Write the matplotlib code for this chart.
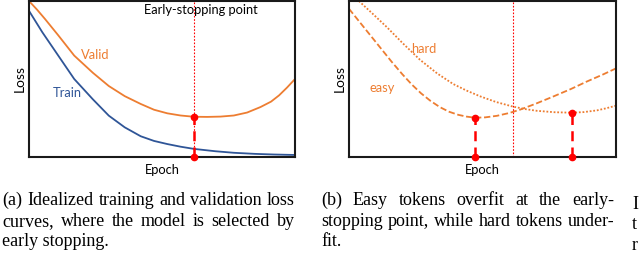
import matplotlib
matplotlib.use("Agg")
import matplotlib.pyplot as plt

# ---------------- data (arbitrary units 0-100) -------------
valid_x = [0, 3, 6, 11, 17, 24, 30, 36, 42, 47, 52, 57, 62, 67, 72, 77, 82, 87, 91, 94, 97, 100]
valid_y = [100, 94.5, 88.5, 78, 65, 54, 45.5, 39, 34, 30.3, 28, 26.6, 25.8, 25.7, 25.9, 26.6, 28.5, 32, 35.5, 39.5, 44.5, 50]

train_x = [0, 5, 11, 17, 24, 30, 36, 42, 47, 52, 57, 62, 70, 77, 85, 92, 100]
train_y = [93.7, 80, 65, 50, 37, 26.5, 19, 13.3, 10.3, 8.3, 6.6, 5.2, 3.7, 2.7, 2.0, 1.6, 1.3]

easy_x = [0, 4, 8, 12, 16, 20, 23.5, 27, 30.5, 34, 37.5, 41, 44, 47.2, 51, 55.4, 60, 64, 70, 76.4, 83, 89.1, 95, 100]
easy_y = [95, 86.5, 78, 69.5, 61, 53, 46.5, 40.8, 36, 32, 29, 27, 25.9, 25.2, 25.4, 26.4, 28.2, 30.3, 34.2, 38.7, 43.5, 48.4, 52.8, 56.8]

hard_x = [3.7, 9, 14.2, 20.2, 26.6, 33, 39, 44, 49.1, 55, 61.4, 66, 70.4, 77, 83.5, 88, 92.9, 96, 100]
hard_y = [100, 91.6, 83.2, 72.8, 62.3, 53.6, 46.8, 42.6, 38.9, 35.3, 32.3, 30.7, 29.6, 28.7, 28.4, 28.8, 29.9, 31.1, 32.9]

early_stop_x = 62
easy_min = (47.2, 25.2)
hard_min = (83.5, 28.4)
valid_min = (62, 25.8)

caption_a = ["(a) Idealized training and validation loss",
             "curves, where the model is selected by",
             "early stopping."]
caption_b = ["(b) Easy tokens overfit at the early-",
             "stopping point, while hard tokens under-",
             "fit."]

# ---------------- style ----------------
ORANGE = "#ED7D31"
BLUE = "#2F5597"
RED = "#FF0000"
SANS = "Lato"
SERIF = "Liberation Serif"
SANS_FS = 9.3

W, H = 640, 265
fig = plt.figure(figsize=(W / 100, H / 100), dpi=100)


def px_axes(x0, y0, x1, y1):
    return fig.add_axes([x0 / W, 1 - y1 / H, (x1 - x0) / W, (y1 - y0) / H])


def style_axes(ax):
    ax.set_xlim(0, 100)
    ax.set_ylim(0, 100)
    ax.set_xticks([])
    ax.set_yticks([])
    for s in ax.spines.values():
        s.set_linewidth(1.5)
        s.set_color("#1a1a1a")
    ax.set_xlabel("Epoch", fontfamily=SANS, fontsize=SANS_FS, labelpad=5)
    ax.set_ylabel("Loss", fontfamily=SANS, fontsize=SANS_FS + 0.7, labelpad=2)


DOT = (0, (1.5, 1.5))
DASH = (0, (4, 2.5))

# ---- panel (a)
ax1 = px_axes(29, 1, 295, 157)
style_axes(ax1)
ax1.plot(valid_x, valid_y, color=ORANGE, lw=1.3)
ax1.plot(train_x, train_y, color=BLUE, lw=1.3)
ax1.axvline(early_stop_x, color=RED, lw=0.8, ls=DOT)
ax1.plot([valid_min[0], valid_min[0]], [0, valid_min[1]], color=RED, lw=1.8, ls=DASH)
ax1.plot([valid_min[0]], [valid_min[1]], "o", color=RED, ms=4.5, clip_on=False)
ax1.plot([valid_min[0]], [0], "o", color=RED, ms=4.5, clip_on=False, zorder=5)
ax1.text(64.5, 94, "Early-stopping point", fontfamily=SANS, fontsize=SANS_FS, ha="center", va="center")
ax1.text(25, 65.5, "Valid", fontfamily=SANS, fontsize=SANS_FS, color=ORANGE, ha="center", va="center")
ax1.text(14.5, 41, "Train", fontfamily=SANS, fontsize=SANS_FS, color=BLUE, ha="center", va="center")

# ---- panel (b)
ax2 = px_axes(349, 1, 616, 157)
style_axes(ax2)
ax2.plot(easy_x, easy_y, color=ORANGE, lw=1.3, ls=(0, (3.5, 1.5)))
ax2.plot(hard_x, hard_y, color=ORANGE, lw=1.3, ls=(0, (1, 1)))
ax2.axvline(early_stop_x - 0.6, color=RED, lw=0.8, ls=DOT)
for mx, my in (easy_min, hard_min):
    ax2.plot([mx, mx], [0, my], color=RED, lw=1.8, ls=DASH)
    ax2.plot([mx], [my], "o", color=RED, ms=4.5, clip_on=False)
    ax2.plot([mx], [0], "o", color=RED, ms=4.5, clip_on=False, zorder=5)
ax2.text(28, 69, "hard", fontfamily=SANS, fontsize=SANS_FS, color=ORANGE, ha="center", va="center")
ax2.text(12.5, 44, "easy", fontfamily=SANS, fontsize=SANS_FS, color=ORANGE, ha="center", va="center")

# ---------------- captions (justified) ----------------
renderer = fig.canvas.get_renderer()
CAP_FS = 13.0


def word_width(w):
    t = fig.text(0, 0, w, fontfamily=SERIF, fontsize=CAP_FS)
    bb = t.get_window_extent(renderer)
    t.remove()
    return bb.width


def line(text, x0, x1, baseline, justify=True):
    words = text.split(" ")
    if not justify or len(words) == 1:
        fig.text(x0 / W, 1 - baseline / H, text, fontfamily=SERIF, fontsize=CAP_FS,
                 ha="left", va="baseline")
        return
    widths = [word_width(w) for w in words]
    gap = (x1 - x0 - sum(widths)) / (len(words) - 1)
    x = x0
    for w, wd in zip(words, widths):
        fig.text(x / W, 1 - baseline / H, w, fontfamily=SERIF, fontsize=CAP_FS,
                 ha="left", va="baseline")
        x += wd + gap


baselines = [205, 226, 246]
for i, (la, lb) in enumerate(zip(caption_a, caption_b)):
    last = i == len(caption_a) - 1
    line(la, 2, 295, baselines[i], justify=not last)
    line(lb, 321, 614, baselines[i], justify=not last)

# cut-off text at the right border of the source page
for ch, b in zip(["I", "t", "r"], [209, 229, 250]):
    fig.text(632 / W, 1 - b / H, ch, fontfamily=SERIF, fontsize=CAP_FS, ha="left", va="baseline")

fig.savefig("out.png", dpi=100)
